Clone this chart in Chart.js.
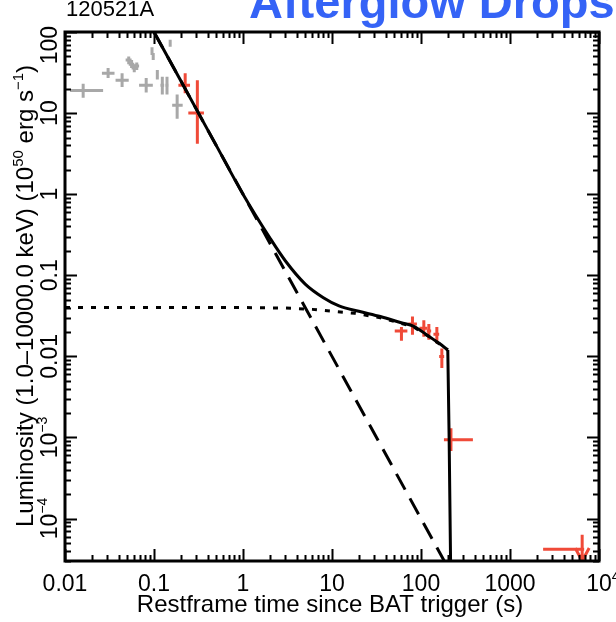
<!DOCTYPE html>
<html>
<head>
<meta charset="utf-8">
<script src="https://cdn.jsdelivr.net/npm/chart.js@4.4.0/dist/chart.umd.min.js"></script>
<style>
  html, body { margin: 0; padding: 0; background: #fff; }
</style>
</head>
<body>
<canvas id="lcChart" width="616" height="622"></canvas>
<script>
// total model (solid)
const modelT = [0.1, 0.2, 0.5, 1, 2, 3, 5, 8, 12, 20, 35, 60, 83, 120, 160, 200];
const modelL = [100, 25, 4.0, 1.0, 0.29, 0.15, 0.078, 0.053, 0.042, 0.036, 0.031, 0.026, 0.0235, 0.018, 0.0145, 0.012];
// steep drop at the end of the plateau
const dropT = [200, 207, 215];
const dropL = [0.012, 0.001, 0.000029];
// steep decay component (dashed)
const decayT = [0.1, 190];
const decayL = [100, 0.0000277];
// plateau component (dotted)
const plateauT = [0.01, 1, 3, 6, 10, 18, 35, 60, 83, 120, 160, 200];
const plateauL = [0.040, 0.040, 0.0395, 0.038, 0.036, 0.034, 0.030, 0.0255, 0.023, 0.0178, 0.0143, 0.012];

// BAT points (grey): [t, tLo, tHi, L, LLo, LHi]
const batPoints = [
    [0.016, 0.0114, 0.0268, 19, 15.5, 23],
    [0.0305, 0.026, 0.036, 31, 27, 36],
    [0.0438, 0.037, 0.052, 25.5, 21, 31],
    [0.052, 0.048, 0.056, 45, 40, 50],
    [0.056, 0.052, 0.060, 40, 36, 45],
    [0.060, 0.056, 0.064, 36, 32, 40],
    [0.064, 0.060, 0.068, 38, 34, 42],
    [0.0817, 0.068, 0.097, 22, 18, 27],
    [0.095, 0.093, 0.097, 58, 52, 65],
    [0.098, 0.096, 0.100, 50, 45, 55],
    [0.109, 0.106, 0.112, 30, 26, 34],
    [0.124, 0.118, 0.130, 22, 17, 28],
    [0.140, 0.134, 0.146, 22, 17, 28],
    [0.152, 0.150, 0.155, 73, 66, 80],
    [0.182, 0.160, 0.210, 12.5, 8.5, 17]
];
// XRT points (red)
const xrtPoints = [
    [0.224, 0.188, 0.254, 22, 17.6, 31],
    [0.307, 0.243, 0.364, 10, 4.2, 25.5],
    [60.3, 50.7, 70.3, 0.0205, 0.0156, 0.023],
    [80.2, 72, 90, 0.0251, 0.0185, 0.031],
    [107.6, 96, 118, 0.0223, 0.0175, 0.028],
    [122.5, 116, 130, 0.0205, 0.016, 0.025],
    [150.7, 138, 160, 0.0188, 0.0145, 0.023],
    [171.5, 160, 182, 0.0100, 0.0072, 0.0125],
    [217, 181, 383, 0.00094, 0.00068, 0.0013]
];
// upper limit: [t, tLo, tHi, L, top of bar]
const xrtLimit = [6470, 2355, 6810, 0.000042, 0.000063];

const xTickVals = [0.01, 0.1, 1, 10, 100, 1000, 10000];
const xTickLabels = ['0.01', '0.1', '1', '10', '100', '1000', ['10', '4']];
const yTickVals = [100, 10, 1, 0.1, 0.01, 0.001, 0.0001];
const yTickLabels = ['100', '10', '1', '0.1', '0.01', ['10', '\u22123'], ['10', '\u22124']];

const FONT = '"Liberation Sans", Arial, sans-serif';
const GREY = '#a8a8a8';
const RED = '#f04a38';

function pts(xs, ys) {
    return xs.map((x, i) => ({x: x, y: ys[i]}));
}

// text made of [text, isSup] parts
function partsWidth(ctx, parts, size) {
    let w = 0;
    for (const p of parts) {
        ctx.font = (p[1] ? Math.round(size * 0.62) : size) + 'px ' + FONT;
        w += ctx.measureText(p[0]).width;
    }
    return w;
}
function drawParts(ctx, parts, x, y, size) {
    for (const p of parts) {
        ctx.font = (p[1] ? Math.round(size * 0.62) : size) + 'px ' + FONT;
        ctx.fillText(p[0], x, p[1] ? y - size * 0.42 : y);
        x += ctx.measureText(p[0]).width;
    }
}
function labelParts(lbl) {
    return Array.isArray(lbl) ? [[lbl[0], false], [lbl[1], true]] : [[lbl, false]];
}

const errorBars = {
    id: 'errorBars',
    beforeDatasetsDraw(chart) {
        const ctx = chart.ctx;
        const xs = chart.scales.x, ys = chart.scales.y;
        const a = chart.chartArea;
        ctx.save();
        ctx.beginPath();
        ctx.rect(a.left, a.top, a.right - a.left, a.bottom - a.top);
        ctx.clip();
        ctx.lineWidth = 3;
        ctx.lineCap = 'butt';
        const drawSet = (list, color) => {
            ctx.strokeStyle = color;
            for (const p of list) {
                const px = xs.getPixelForValue(p[0]);
                const py = ys.getPixelForValue(p[3]);
                ctx.beginPath();
                ctx.moveTo(xs.getPixelForValue(p[1]), py);
                ctx.lineTo(xs.getPixelForValue(p[2]), py);
                ctx.moveTo(px, ys.getPixelForValue(p[4]));
                ctx.lineTo(px, ys.getPixelForValue(p[5]));
                ctx.stroke();
            }
        };
        drawSet(batPoints, GREY);
        drawSet(xrtPoints, RED);

        // upper limit with arrow
        const lx = xs.getPixelForValue(xrtLimit[0]);
        const ly = ys.getPixelForValue(xrtLimit[3]);
        const top = ys.getPixelForValue(xrtLimit[4]);
        ctx.strokeStyle = RED;
        ctx.beginPath();
        ctx.moveTo(xs.getPixelForValue(xrtLimit[1]), ly);
        ctx.lineTo(xs.getPixelForValue(xrtLimit[2]), ly);
        ctx.moveTo(lx, top);
        ctx.lineTo(lx, a.bottom);
        ctx.moveTo(lx - 7, a.bottom - 13);
        ctx.lineTo(lx, a.bottom);
        ctx.lineTo(lx + 7, a.bottom - 13);
        ctx.stroke();
        ctx.restore();
    },
    afterDraw(chart) {
        const ctx = chart.ctx;
        const xs = chart.scales.x, ys = chart.scales.y;
        const a = chart.chartArea;
        ctx.save();
        ctx.strokeStyle = '#000';
        ctx.fillStyle = '#000';

        // inward ticks on all four sides
        ctx.lineWidth = 2;
        ctx.beginPath();
        for (let d = -2; d <= 4; d++) {
            for (let k = 1; k <= 9; k++) {
                const v = k * Math.pow(10, d);
                if (v < xs.min || v > xs.max) continue;
                const px = Math.round(xs.getPixelForValue(v)) + 0.5;
                const len = k === 1 ? 12 : 6;
                ctx.moveTo(px, a.top); ctx.lineTo(px, a.top + len);
                ctx.moveTo(px, a.bottom); ctx.lineTo(px, a.bottom - len);
            }
        }
        for (let d = -5; d <= 2; d++) {
            for (let k = 1; k <= 9; k++) {
                const v = k * Math.pow(10, d);
                if (v < ys.min || v > ys.max) continue;
                const py = Math.round(ys.getPixelForValue(v)) + 0.5;
                const len = k === 1 ? 12 : 6;
                ctx.moveTo(a.left, py); ctx.lineTo(a.left + len, py);
                ctx.moveTo(a.right, py); ctx.lineTo(a.right - len, py);
            }
        }
        ctx.stroke();

        // frame
        ctx.lineWidth = 3;
        ctx.strokeRect(a.left, a.top, a.right - a.left, a.bottom - a.top);

        // x tick labels
        const fs = 23;
        ctx.textBaseline = 'alphabetic';
        ctx.textAlign = 'left';
        xTickVals.forEach((v, i) => {
            const parts = labelParts(xTickLabels[i]);
            ctx.font = fs + 'px ' + FONT;
            const bw = ctx.measureText(parts[0][0]).width;
            const px = xs.getPixelForValue(v);
            drawParts(ctx, parts, px - bw / 2, a.bottom + 30, fs);
        });

        // y tick labels, rotated; the top one is kept inside the frame
        yTickVals.forEach((v, i) => {
            const parts = labelParts(yTickLabels[i]);
            const w = partsWidth(ctx, parts, fs);
            const py = Math.max(ys.getPixelForValue(v), a.top + w / 2 - 6);
            ctx.save();
            ctx.translate(a.left - 8, py);
            ctx.rotate(-Math.PI / 2);
            drawParts(ctx, parts, -w / 2, 0, fs);
            ctx.restore();
        });

        // axis titles
        ctx.font = '24px ' + FONT;
        ctx.textAlign = 'center';
        ctx.fillText('Restframe time since BAT trigger (s)', (a.left + a.right) / 2 - 2, 612);
        ctx.textAlign = 'left';
        const yTitle = [['Luminosity (1.0\u201310000.0 keV) (10', false], ['50', true], [' erg s', false], ['\u22121', true], [')', false]];
        const tw = partsWidth(ctx, yTitle, 24);
        ctx.save();
        ctx.translate(33, 296);
        ctx.rotate(-Math.PI / 2);
        drawParts(ctx, yTitle, -tw / 2, 0, 24);
        ctx.restore();

        // burst name and slide heading
        ctx.font = '22px ' + FONT;
        ctx.fillText('120521A', a.left + 1, 16);
        ctx.font = 'bold 47px ' + FONT;
        ctx.fillStyle = '#3563f6';
        ctx.fillText('Afterglow Drops', 249, 18);
        ctx.restore();
    }
};

const lineStyle = {
    borderColor: '#000',
    borderWidth: 3,
    pointRadius: 0,
    fill: false
};

new Chart(document.getElementById('lcChart'), {
    type: 'line',
    data: {
        datasets: [
            Object.assign({label: 'plateau', data: pts(plateauT, plateauL), borderDash: [5, 8], tension: 0}, lineStyle),
            Object.assign({label: 'decay', data: pts(decayT, decayL), borderDash: [18, 10], tension: 0}, lineStyle),
            Object.assign({label: 'model', data: pts(modelT, modelL), cubicInterpolationMode: 'monotone'}, lineStyle),
            Object.assign({label: 'drop', data: pts(dropT, dropL), tension: 0}, lineStyle)
        ]
    },
    options: {
        responsive: false,
        animation: false,
        layout: {
            padding: {left: 65, right: 17, top: 32, bottom: 61}
        },
        plugins: {
            legend: {display: false},
            tooltip: {enabled: false}
        },
        scales: {
            x: {type: 'logarithmic', min: 0.01, max: 10000, display: false},
            y: {type: 'logarithmic', min: 0.00003, max: 100, display: false}
        }
    },
    plugins: [errorBars]
});
</script>
</body>
</html>
